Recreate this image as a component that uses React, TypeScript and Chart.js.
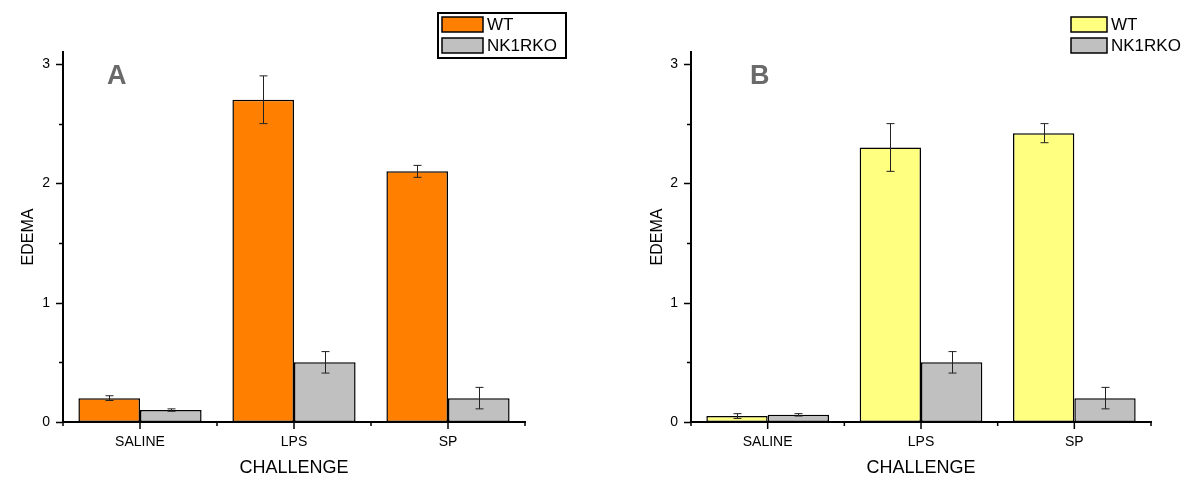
import React, { useEffect, useRef } from "react";
import { Chart, registerables } from "chart.js";
Chart.register(...registerables);

const categories = ["SALINE", "LPS", "SP"];
const seriesLabels = ["WT", "NK1RKO"];
const wtA = [0.2, 2.7, 2.1];
const wtAErr = [0.02, 0.2, 0.05];
const koA = [0.1, 0.5, 0.2];
const koAErr = [0.01, 0.09, 0.09];
const wtB = [0.05, 2.3, 2.42];
const wtBErr = [0.02, 0.2, 0.08];
const koB = [0.06, 0.5, 0.2];
const koBErr = [0.01, 0.09, 0.09];
const yTickLabels = [0, 1, 2, 3];
const yMinorTicks = [0.5, 1.5, 2.5];
const yMax = 3.1;

const FONT = "'Liberation Sans', Arial, sans-serif";

type PanelCfg = {
  letter: string;
  left: number;
  axisWidth: number;
  rightPad: number;
  titlePad: number;
  wt: number[];
  wtErr: number[];
  ko: number[];
  koErr: number[];
  wtColor: string;
  legendBox: boolean;
  legendX: number;
  swatchW: number;
  letterX: number;
};

const panels: PanelCfg[] = [
  {
    letter: "A", left: 0, axisWidth: 63, rightPad: 75, titlePad: 19,
    wt: wtA, wtErr: wtAErr, ko: koA, koErr: koAErr,
    wtColor: "#FF8000", legendBox: true, legendX: 442, swatchW: 41, letterX: 107,
  },
  {
    letter: "B", left: 600, axisWidth: 91, rightPad: 49, titlePad: 48,
    wt: wtB, wtErr: wtBErr, ko: koB, koErr: koBErr,
    wtColor: "#FFFF80", legendBox: false, legendX: 471, swatchW: 36, letterX: 150,
  },
];

const panelPlugin = {
  id: "panelDeco",
  afterDatasetsDraw(chart: any) {
    const ctx = chart.ctx;
    const ys = chart.scales.y;
    chart.data.datasets.forEach((ds: any, di: number) => {
      const meta = chart.getDatasetMeta(di);
      meta.data.forEach((el: any, i: number) => {
        const v = ds.data[i];
        const e = ds.errors[i];
        const x = Math.round(el.x) + 0.5;
        const yt = ys.getPixelForValue(v + e);
        const yb = ys.getPixelForValue(Math.max(0, v - e));
        ctx.save();
        ctx.strokeStyle = "#222";
        ctx.lineWidth = 1;
        ctx.beginPath();
        ctx.moveTo(x, yt);
        ctx.lineTo(x, yb);
        ctx.moveTo(x - 4, yt);
        ctx.lineTo(x + 4, yt);
        ctx.moveTo(x - 4, yb);
        ctx.lineTo(x + 4, yb);
        ctx.stroke();
        ctx.restore();
      });
    });
  },
  afterDraw(chart: any, _args: any, opts: any) {
    const ctx = chart.ctx;
    const xs = chart.scales.x;
    const ys = chart.scales.y;
    const ca = chart.chartArea;
    ctx.save();
    ctx.strokeStyle = "#000";
    ctx.lineWidth = 1.5;
    ctx.beginPath();
    yTickLabels.forEach((v) => {
      const py = Math.round(ys.getPixelForValue(v)) + 0.5;
      ctx.moveTo(ca.left - 7, py);
      ctx.lineTo(ca.left, py);
    });
    yMinorTicks.forEach((v) => {
      const py = Math.round(ys.getPixelForValue(v)) + 0.5;
      ctx.moveTo(ca.left - 4, py);
      ctx.lineTo(ca.left, py);
    });
    const n = categories.length;
    const centers = categories.map((_, i) => xs.getPixelForValue(i));
    centers.forEach((cx: number) => {
      ctx.moveTo(cx, ca.bottom);
      ctx.lineTo(cx, ca.bottom + 7);
    });
    const bounds = [xs.left, xs.right];
    for (let i = 1; i < n; i++) bounds.push((centers[i - 1] + centers[i]) / 2);
    bounds.forEach((bx: number) => {
      ctx.moveTo(bx, ca.bottom);
      ctx.lineTo(bx, ca.bottom + 4);
    });
    ctx.stroke();

    // letter
    ctx.fillStyle = "#6a6a6a";
    ctx.font = `bold 27px ${FONT}`;
    ctx.textAlign = "left";
    ctx.textBaseline = "middle";
    ctx.fillText(opts.letter, opts.letterX, 77);

    // legend
    const top1 = 17;
    const rowH = 21;
    const sw = opts.swatchW;
    const sh = 15;
    if (opts.legendBox) {
      ctx.lineWidth = 2;
      ctx.strokeStyle = "#000";
      ctx.strokeRect(opts.legendX - 4, 13, 128, 45);
    }
    chart.data.datasets.forEach((ds: any, di: number) => {
      const y0 = top1 + di * rowH;
      ctx.fillStyle = ds.backgroundColor;
      ctx.fillRect(opts.legendX, y0, sw, sh);
      ctx.lineWidth = 1.5;
      ctx.strokeStyle = "#000";
      ctx.strokeRect(opts.legendX, y0, sw, sh);
      ctx.fillStyle = "#000";
      ctx.font = `17px ${FONT}`;
      ctx.textBaseline = "middle";
      ctx.fillText(ds.label, opts.legendX + sw + 4, y0 + sh / 2 + 1);
    });
    ctx.restore();
  },
};

function Panel({ cfg }: { cfg: PanelCfg }) {
  const ref = useRef<HTMLCanvasElement>(null);
  useEffect(() => {
    const chart = new Chart(ref.current as HTMLCanvasElement, {
      type: "bar",
      data: {
        labels: categories,
        datasets: [
          {
            label: seriesLabels[0],
            data: cfg.wt,
            errors: cfg.wtErr,
            backgroundColor: cfg.wtColor,
            borderColor: "#000",
            borderWidth: 1.5,
            borderSkipped: false,
            categoryPercentage: 0.8,
            barPercentage: 1,
          } as any,
          {
            label: seriesLabels[1],
            data: cfg.ko,
            errors: cfg.koErr,
            backgroundColor: "#C0C0C0",
            borderColor: "#000",
            borderWidth: 1.5,
            borderSkipped: false,
            categoryPercentage: 0.8,
            barPercentage: 1,
          } as any,
        ],
      },
      options: {
        animation: false,
        responsive: false,
        layout: { padding: { top: 52, right: cfg.rightPad, left: 0, bottom: 0 } },
        plugins: {
          legend: { display: false },
          tooltip: { enabled: false },
          panelDeco: {
            letter: cfg.letter,
            letterX: cfg.letterX,
            legendBox: cfg.legendBox,
            legendX: cfg.legendX,
            swatchW: cfg.swatchW,
          },
        } as any,
        scales: {
          x: {
            afterFit: (s: any) => {
              s.height = 79;
            },
            grid: { display: false, drawTicks: false },
            border: { display: true, color: "#000", width: 2 },
            ticks: { padding: 12, color: "#000", font: { size: 14, family: FONT }, maxRotation: 0 },
            title: {
              display: true,
              text: "CHALLENGE",
              color: "#000",
              font: { size: 18, family: FONT },
              padding: { top: 0, bottom: 22 },
            },
          },
          y: {
            min: 0,
            max: yMax,
            afterBuildTicks: (s: any) => {
              s.ticks = yTickLabels.map((v) => ({ value: v }));
            },
            afterFit: (s: any) => {
              s.width = cfg.axisWidth;
            },
            grid: { display: false, drawTicks: false },
            border: { display: true, color: "#000", width: 2 },
            ticks: { padding: 13, color: "#000", font: { size: 14, family: FONT } },
            title: {
              display: true,
              text: "EDEMA",
              color: "#000",
              font: { size: 16, family: FONT },
              padding: { top: cfg.titlePad, bottom: 0 },
            },
          },
        },
      } as any,
      plugins: [panelPlugin],
    });
    return () => chart.destroy();
  }, []);
  return (
    <div style={{ position: "absolute", left: cfg.left, top: 0, width: 600, height: 501 }}>
      <canvas ref={ref} width={600} height={501} style={{ display: "block" }} />
    </div>
  );
}

export default function App() {
  return (
    <div style={{ position: "absolute", left: 0, top: 0, width: 1200, height: 501, background: "#fff" }}>
      {panels.map((p) => (
        <Panel key={p.letter} cfg={p} />
      ))}
    </div>
  );
}
